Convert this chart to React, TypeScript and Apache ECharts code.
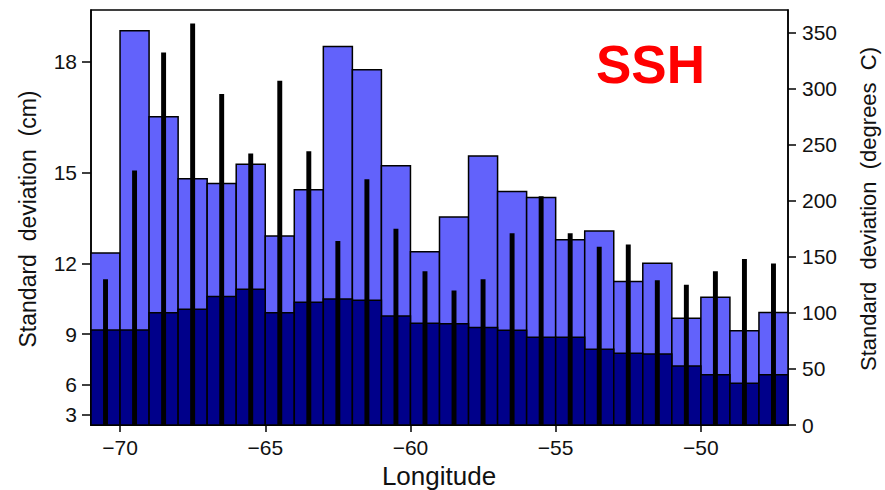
import React, { useEffect, useRef } from "react";
import * as echarts from "echarts";

// Longitude bins (left edge of each 1-degree bin)
const lonEdges = [-71, -70, -69, -68, -67, -66, -65, -64, -63, -62, -61, -60, -59, -58, -57, -56, -55, -54, -53, -52, -51, -50, -49, -48];
// SSH standard deviation (cm), light bars
const sshTotal = [12.38, 18.75, 16.58, 14.82, 14.67, 15.25, 12.98, 14.48, 18.37, 17.8, 15.2, 12.43, 13.62, 15.49, 14.43, 14.24, 12.85, 13.15, 11.31, 12.01, 9.76, 10.67, 9.17, 10.01];
// SSH standard deviation (cm), dark bars
const sshLow = [9.2, 9.2, 10.0, 10.16, 10.7, 11.0, 10.0, 10.46, 10.6, 10.55, 9.86, 9.52, 9.5, 9.32, 9.19, 8.85, 8.85, 8.22, 8.0, 7.95, 7.25, 6.7, 6.1, 6.7];
// Right-axis standard deviation (degrees C), thin black bars
const sstStd = [130, 227, 332, 358, 295, 242, 307, 244, 164, 219, 175, 137, 120, 130, 171, 204, 171, 159, 161, 129, 125, 137, 148, 144];

const xTicks = [-70, -65, -60, -55, -50];
const leftTicks = [3, 6, 9, 12, 15, 18];
const rightTicks = [0, 50, 100, 150, 200, 250, 300, 350];

const LIGHT = "#6262fb";
const DARK = "#00008a";
const FONT = "Liberation Sans";

function barRender(fill: string, stroke: boolean) {
  return (params: any, api: any) => {
    const x0 = api.value(0);
    const v = api.value(1);
    const p0 = api.coord([x0, v]);
    const p1 = api.coord([x0 + 1, 0]);
    return {
      type: "rect",
      shape: { x: p0[0], y: p0[1], width: p1[0] - p0[0], height: p1[1] - p0[1] },
      style: { fill, stroke: stroke ? "#000" : "none", lineWidth: 1.5 },
    };
  };
}

function thinRender(params: any, api: any) {
  const x0 = api.value(0);
  const v = api.value(1);
  const p0 = api.coord([x0 + 0.5 - 0.085, v]);
  const p1 = api.coord([x0 + 0.5 + 0.085, 0]);
  return {
    type: "rect",
    shape: { x: p0[0], y: p0[1], width: p1[0] - p0[0], height: p1[1] - p0[1] },
    style: { fill: "#000" },
  };
}

const minusFmt = (v: number) => (v < 0 ? "\u2212" + Math.abs(v) : String(v));

export default function App() {
  const ref = useRef<HTMLDivElement>(null);
  useEffect(() => {
    if (!ref.current) return;
    const chart = echarts.init(ref.current, null, { renderer: "svg" });
    const axisLine = { show: true, lineStyle: { color: "#000", width: 1.5 } };
    const labelStyle = { fontFamily: FONT, fontSize: 21, color: "#111" };
    chart.setOption({
      animation: false,
      backgroundColor: "#fff",
      grid: { left: 91, right: 97, top: 10, bottom: 65, show: true, borderColor: "#000", borderWidth: 1.5, backgroundColor: "transparent" },
      xAxis: {
        type: "value",
        min: -71,
        max: -47,
        axisLine,
        splitLine: { show: false },
        axisTick: { show: true, length: 7, customValues: xTicks, lineStyle: { color: "#000", width: 1.5 } },
        axisLabel: { ...labelStyle, customValues: xTicks, formatter: minusFmt, margin: 12 },
      },
      yAxis: [
        {
          type: "value",
          position: "left",
          min: 0,
          max: 370,
          axisLine,
          splitLine: { show: false },
          axisTick: { show: true, length: 9, customValues: leftTicks.map((t) => t * t), lineStyle: { color: "#000", width: 1.5 } },
          axisLabel: { ...labelStyle, customValues: leftTicks.map((t) => t * t), formatter: (v: number) => String(Math.round(Math.sqrt(v))), margin: 14 },
        },
        {
          type: "value",
          position: "right",
          min: 0,
          max: 370,
          axisLine,
          splitLine: { show: false },
          axisTick: { show: true, length: 8, customValues: rightTicks, lineStyle: { color: "#000", width: 1.5 } },
          axisLabel: { ...labelStyle, customValues: rightTicks, margin: 14 },
        },
      ],
      series: [
        {
          type: "custom",
          name: "SSH total",
          renderItem: barRender(LIGHT, true),
          data: lonEdges.map((x, i) => [x, sshTotal[i] * sshTotal[i]]),
          encode: { x: 0, y: 1 },
          yAxisIndex: 0,
          z: 1,
        },
        {
          type: "custom",
          name: "SSH low",
          renderItem: barRender(DARK, true),
          data: lonEdges.map((x, i) => [x, sshLow[i] * sshLow[i]]),
          encode: { x: 0, y: 1 },
          yAxisIndex: 0,
          z: 2,
        },
        {
          type: "custom",
          name: "SST",
          renderItem: thinRender,
          data: lonEdges.map((x, i) => [x, sstStd[i]]),
          encode: { x: 0, y: 1 },
          yAxisIndex: 1,
          z: 3,
        },
      ],
      graphic: [
        {
          type: "text",
          x: 596,
          y: 64,
          style: { text: "SSH", font: `bold 53px "${FONT}"`, fill: "#ff0000", textAlign: "left", textVerticalAlign: "middle" },
          z: 10,
        },
        {
          type: "text",
          x: 28,
          y: 219,
          rotation: Math.PI / 2,
          style: { text: "Standard  deviation  (cm)", font: `23px "${FONT}"`, fill: "#111", textAlign: "center", textVerticalAlign: "middle" },
        },
        {
          type: "text",
          x: 868,
          y: 209,
          rotation: Math.PI / 2,
          style: { text: "Standard  deviation  (degrees  C)", font: `22px "${FONT}"`, fill: "#111", textAlign: "center", textVerticalAlign: "middle" },
        },
        {
          type: "text",
          x: 439,
          y: 476,
          style: { text: "Longitude", font: `26px "${FONT}"`, fill: "#111", textAlign: "center", textVerticalAlign: "middle" },
        },
      ],
    });
    return () => chart.dispose();
  }, []);
  return <div ref={ref} style={{ width: 885, height: 490, position: "absolute", left: 0, top: 0 }} />;
}
